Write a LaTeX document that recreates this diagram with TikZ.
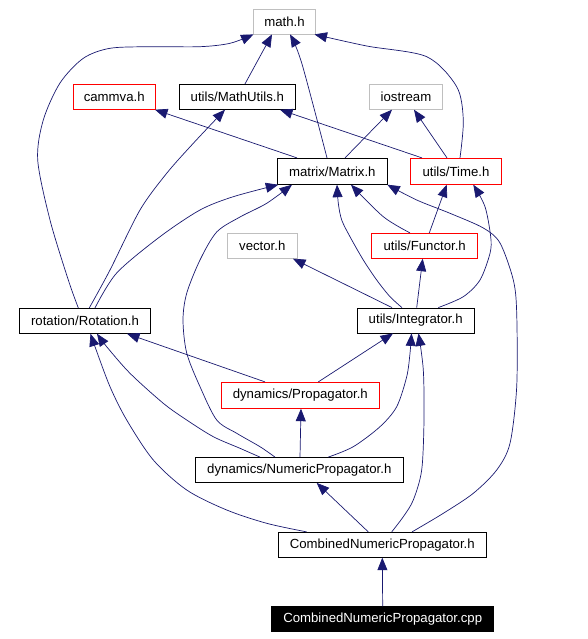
\documentclass[tikz,border=0pt]{standalone}
\usepackage{fontspec}
\setmainfont{Liberation Sans}
\usetikzlibrary{arrows.meta}
\definecolor{edgeblue}{RGB}{25,25,112}
\definecolor{grayb}{RGB}{191,191,191}
\begin{document}
\begin{tikzpicture}[x=1pt,y=-1pt,
  box/.style={draw=black,line width=0.8pt,rectangle,inner sep=0pt,minimum height=25pt,font=\fontsize{13.2}{15}\selectfont},
  graybox/.style={box,draw=grayb},
  redbox/.style={box,draw=red},
  blackbox/.style={box,fill=black,text=white},
  edge/.style={draw=edgeblue,line width=0.7pt,-{Triangle[length=12.5pt,width=10pt]}}]
\useasboundingbox (0,0) rectangle (588,639);
% nodes
\node[graybox,minimum width=62pt] (math) at (284.5,21.5) {math.h};
\node[redbox,minimum width=81.5pt] (cammva) at (114.2,96.8) {cammva.h};
\node[box,minimum width=116pt] (mathutils) at (237.3,96.8) {utils/MathUtils.h};
\node[graybox,minimum width=73.4pt] (iostream) at (406,96.8) {iostream};
\node[box,minimum width=110pt,minimum height=26pt] (matrix) at (332.3,171.3) {matrix/Matrix.h};
\node[redbox,minimum width=91.4pt,minimum height=26pt] (time) at (456,171.3) {utils/Time.h};
\node[graybox,minimum width=70pt] (vector) at (262.3,245.8) {vector.h};
\node[redbox,minimum width=106pt] (functor) at (424.7,245.8) {utils/Functor.h};
\node[box,minimum width=131pt] (rotation) at (85,320.8) {rotation/Rotation.h};
\node[box,minimum width=116.7pt] (integrator) at (415.7,320.5) {utils/Integrator.h};
\node[redbox,minimum width=158pt,minimum height=26pt] (propagator) at (300.3,395.3) {dynamics/Propagator.h};
\node[box,minimum width=208pt] (numprop) at (299.3,470) {dynamics/NumericPropagator.h};
\node[box,minimum width=208pt] (combh) at (382.3,544.8) {CombinedNumericPropagator.h};
\node[blackbox,minimum width=221.7pt] (cpp) at (382.7,619.3) {CombinedNumericPropagator.cpp};
% edges
\draw[edge] ([xshift=7.7pt]mathutils.north) -- ([xshift=-12.5pt]math.south);
\draw[edge] plot[smooth] coordinates {([xshift=-5.3pt]matrix.north) (301.7,63) ([xshift=5.5pt]math.south)};
\draw[edge] plot[smooth] coordinates {([xshift=4pt]time.north) (463.3,120) (456.7,86.7) (426.7,56.7) (366.7,46) ([xshift=30pt]math.south)};
\draw[edge] plot[smooth] coordinates {([xshift=-6.7pt]rotation.north) (68.3,280) (50,220) (37.7,160) (43.3,120) (60,83) (83.3,58.3) (110,48.3) (150,46.7) (200,46.7) (230,43.3) ([xshift=-31pt]math.south)};
\draw[edge] ([xshift=-35.3pt]matrix.north) -- ([xshift=40.8pt]cammva.south);
\draw[edge] ([xshift=-34pt]time.north) -- ([xshift=42.7pt]mathutils.south);
\draw[edge] ([xshift=12.7pt]matrix.north) -- ([xshift=-14pt]iostream.south);
\draw[edge] ([xshift=-9pt]time.north) -- ([xshift=8pt]iostream.south);
\draw[edge] plot[smooth] coordinates {([xshift=4.3pt]rotation.north) (110,270) (140,210) (166.7,173.3) (193.3,143.3) ([xshift=-12.3pt]mathutils.south)};
\draw[edge] plot[smooth] coordinates {([xshift=10pt]rotation.north) (116.7,273) (160,236.7) (200,210) (233.3,196.7) ([xshift=-54pt]matrix.south)};
\draw[edge] plot[smooth] coordinates {([xshift=-24.3pt]numprop.north) (260,446.7) (236.7,433.3) (216.7,420) (200,386.7) (186.7,353) (183,320) (186.7,293.3) (200,260) (216.7,232) (240,217) (266.7,203.3) ([xshift=-40.3pt]matrix.south)};
\draw[edge] plot[smooth] coordinates {([xshift=-13.7pt]integrator.north) (390,296.7) (376.7,280) (363.3,260) (350,236.7) (341.7,220) (338.3,203.3) ([xshift=4.7pt]matrix.south)};
\draw[edge] plot[smooth] coordinates {([xshift=-14.7pt]functor.north) (383.3,216.7) ([xshift=18.7pt]matrix.south)};
\draw[edge] plot[smooth] coordinates {([xshift=29.7pt]combh.north) (443.3,513.3) (473.3,493.3) (496.7,470) (510,443.3) (516.7,386.7) (516.7,313) (513.3,280) (500,243) (483.3,228) (450,213.3) (416.7,200) ([xshift=55pt]matrix.south)};
\draw[edge] ([xshift=4.6pt]functor.north) -- ([xshift=-9.3pt]time.south);
\draw[edge] plot[smooth] coordinates {([xshift=22.6pt]integrator.north) (463.3,296.7) (480,280) (490,253.3) (490.7,236.7) (485,206.7) ([xshift=17.3pt]time.south)};
\draw[edge] ([xshift=-23.7pt]integrator.north) -- ([xshift=30.7pt]vector.south);
\draw[edge] ([xshift=1pt]integrator.north) -- ([xshift=-2pt]functor.south);
\draw[edge] ([xshift=-35.3pt]propagator.north) -- ([xshift=42pt]rotation.south);
\draw[edge] plot[smooth] coordinates {([xshift=-39.3pt]numprop.north) (240,448.3) (213.3,436.7) (186.7,420) (163.3,403.3) (130,373.3) (106.7,346.7) ([xshift=12pt]rotation.south)};
\draw[edge] plot[smooth] coordinates {([xshift=-75.6pt]combh.north) (266.7,523.3) (226.7,510) (186.7,490) (153.3,460) (126.7,420) (110,386.7) (95,346.7) ([xshift=5.5pt]rotation.south)};
\draw[edge] ([xshift=18pt]propagator.north) -- ([xshift=-22.7pt]integrator.south);
\draw[edge] plot[smooth] coordinates {([xshift=29pt]numprop.north) (353.3,446.7) (380,426.7) (396.7,406.7) (406.7,376.7) (410,353.3) ([xshift=-4.2pt]integrator.south)};
\draw[edge] plot[smooth] coordinates {([xshift=9.4pt]combh.north) (403.3,516.7) (413.3,500) (421.7,470) (424,420) (423.3,370) ([xshift=2.8pt]integrator.south)};
\draw[edge] ([xshift=0.7pt]numprop.north) -- ([xshift=0.7pt]propagator.south);
\draw[edge] ([xshift=-14pt]combh.north) -- ([xshift=17.4pt]numprop.south);
\draw[edge] (cpp.north) -- (combh.south);
\end{tikzpicture}
\end{document}
